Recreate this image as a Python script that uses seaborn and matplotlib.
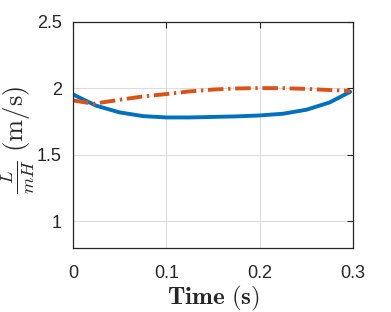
import pandas as pd
import matplotlib
matplotlib.use("Agg")
import matplotlib.pyplot as plt
import seaborn as sns

# =============================================
# Data
time_blue = [0, 0.025, 0.05, 0.075, 0.1, 0.125, 0.15, 0.175, 0.2, 0.225, 0.25, 0.275, 0.297]
lift_blue = [1.955, 1.87, 1.82, 1.792, 1.782, 1.782, 1.786, 1.79, 1.797, 1.81, 1.84, 1.895, 1.975]

time_orange = [0, 0.022, 0.05, 0.075, 0.1, 0.125, 0.15, 0.175, 0.2, 0.225, 0.25, 0.275, 0.297]
lift_orange = [1.91, 1.885, 1.915, 1.94, 1.958, 1.978, 1.992, 2.0, 2.003, 2.002, 1.997, 1.988, 1.982]

xticks = [0, 0.1, 0.2, 0.3]
xticklabels = ['0', '0.1', '0.2', '0.3']
yticks = [1, 1.5, 2, 2.5]
yticklabels = ['1', '1.5', '2', '2.5']

# =============================================
# Plot settings
sns.set_theme(style="whitegrid")
plt.rcParams['font.family'] = ['Liberation Sans', 'DejaVu Sans']
plt.rcParams['mathtext.fontset'] = 'cm'

blue = '#0072BD'
orange = '#D95319'

df_blue = pd.DataFrame({'t': time_blue, 'v': lift_blue})
df_orange = pd.DataFrame({'t': time_orange, 'v': lift_orange})

fig = plt.figure(figsize=(3.91, 3.12), dpi=100)
ax = fig.add_axes([73 / 391, 64 / 312, 280 / 391, 226 / 312])

sns.lineplot(data=df_blue, x='t', y='v', color=blue, linewidth=2.8, ax=ax)
sns.lineplot(data=df_orange, x='t', y='v', color=orange, linewidth=2.8, ax=ax,
             linestyle=(0, (4, 1.2, 0.6, 1.2)))

ax.set_xlim(0, 0.3)
ax.set_ylim(0.8, 2.5)
ax.set_xticks(xticks)
ax.set_xticklabels(xticklabels)
ax.set_yticks(yticks)
ax.set_yticklabels(yticklabels)

ax.grid(True, color='#dcdcdc', linewidth=0.8)
ax.set_facecolor('white')
for s in ax.spines.values():
    s.set_color('#262626')
    s.set_linewidth(0.9)
    s.set_visible(True)

ax.tick_params(direction='in', length=4, width=0.8, color='#262626', top=True, right=True,
               labelsize=13, labelcolor='#262626', pad=12)
ax.tick_params(axis='y', pad=8)

ax.set_xlabel(r'$\mathbf{Time\ (s)}$', fontsize=18, color='#262626')
ax.set_ylabel(r'$\frac{L}{mH}\ \mathrm{(m/s)}$', fontsize=19, color='#262626')
ax.xaxis.set_label_coords(0.5, -0.16)
ax.yaxis.set_label_coords(-0.128, 0.478)

plt.savefig('out.png', dpi=100)
